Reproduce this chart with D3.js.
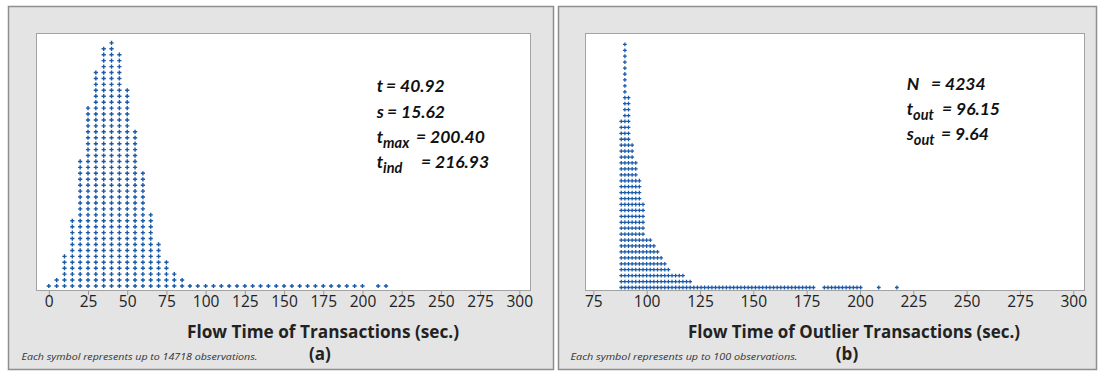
<!DOCTYPE html>
<html><head><meta charset="utf-8">
<script src="https://cdn.jsdelivr.net/npm/d3@7"></script>
<style>body{margin:0;background:#fff}svg{display:block}</style>
</head><body><svg id="c" width="1105" height="372"></svg>
<script>
// ---- data ----
const ticksA = [0,25,50,75,100,125,150,175,200,225,250,275,300];
const ticksB = [75,100,125,150,175,200,225,250,275,300];
const binsA = [0,5,10,15,20,25,30,35,40,45,50,55,60,65,70,75,80,85,
  90,95,100,105,110,115,120,125,130,135,140,145,150,155,160,165,170,175,180,185,190,195,200,
  210,215];
const countsA = [1,2,6,12,22,31,37,41,42,40,34,27,20,13,8,5,3,2,
  1,1,1,1,1,1,1,1,1,1,1,1,1,1,1,1,1,1,1,1,1,1,1,
  1,1];
const binsB = [88.1,89.8,91.5,93.2,94.9,96.6,98.3,100.0,101.7,103.4,
  105.1,106.8,108.5,110.2,111.9,113.6,115.3,117.0,118.7,120.4,
  122.1,123.8,125.5,127.2,128.9,130.6,132.3,134.0,135.7,137.4,
  139.1,140.8,142.5,144.2,145.9,147.6,149.3,151.0,152.7,154.4,
  156.1,157.8,159.5,161.2,162.9,164.6,166.3,168.0,169.7,171.4,
  173.1,174.8,176.5,178.2,
  183.3,185.0,186.7,188.4,190.1,191.8,193.5,195.2,196.9,198.6,200.3,
  208.8,217.3];
const countsB = [29,42,33,25,22,19,15,9,9,8,7,6,5,4,3,3,3,3,2,2,
  1,1,1,1,1,1,1,1,1,1,1,1,1,1,1,1,1,1,1,1,1,1,1,1,1,1,1,1,1,1,1,1,1,1,
  1,1,1,1,1,1,1,1,1,1,1,
  1,1];
const titleA = "Flow Time of Transactions (sec.)";
const titleB = "Flow Time of Outlier Transactions (sec.)";
const noteA = "Each symbol represents up to 14718 observations.";
const noteB = "Each symbol represents up to 100 observations.";

// ---- drawing ----
const svg = d3.select("#c");
const blue = "#1a5aa8";
function frame(x, w){
  svg.append("rect").attr("x",x+0.5).attr("y",6.5).attr("width",w).attr("height",363)
    .attr("fill","#e4e4e4").attr("stroke","#8e8e8e").attr("stroke-width",1.5);
}
frame(8,545); frame(558,538);

function panel(o){
  const g = svg.append("g");
  g.append("rect").attr("x",o.left+0.5).attr("y",33.5).attr("width",o.right-o.left).attr("height",257)
    .attr("fill","#fff").attr("stroke","#a3a3a3");
  const x = d3.scaleLinear().domain(o.dom).range(o.rng);
  const y = d3.scaleLinear().domain([0,41]).range([o.base, o.base-41*o.step]);
  const ax = g.append("g").attr("transform","translate(0,291)")
    .call(d3.axisBottom(x).tickValues(o.ticks).tickSize(4).tickPadding(1).tickFormat(d3.format("d")));
  ax.select(".domain").remove();
  ax.selectAll(".tick line").attr("stroke","#9a9a9a");
  ax.selectAll(".tick text").attr("font-family","'Open Sans'").attr("font-size",15.5).attr("fill","#222");
  const pts = [];
  o.bins.forEach((b,i)=>{ for(let r=0;r<o.counts[i];r++) pts.push([b,r]); });
  const sym = d3.symbol(d3.symbolCross, o.size)();
  g.append("g").selectAll("path").data(pts).join("path")
    .attr("d",sym).attr("fill",blue)
    .attr("transform",d=>`translate(${x(d[0])},${y(d[1])})`);
  g.append("text").attr("x",o.tx).attr("y",338).attr("text-anchor","middle")
    .attr("font-family","'Open Sans'").attr("font-weight","bold").attr("font-size",17).attr("fill","#222")
    .attr("textLength",o.tw).attr("lengthAdjust","spacingAndGlyphs").text(o.title);
  g.append("text").attr("x",o.lx).attr("y",360).attr("text-anchor","middle")
    .attr("font-family","'Open Sans'").attr("font-weight","bold").attr("font-size",17).attr("fill","#222")
    .text(o.label);
  g.append("text").attr("x",o.nx).attr("y",360)
    .attr("font-family","'Open Sans'").attr("font-style","italic").attr("font-size",9).attr("fill","#333")
    .attr("textLength",o.nw).attr("lengthAdjust","spacingAndGlyphs").text(o.note);
}
panel({left:36,right:530,dom:[0,300],rng:[48.8,519.3],ticks:ticksA,bins:binsA,counts:countsA,
  base:286,step:5.93,size:10,title:titleA,tx:323,tw:272,label:"(a)",lx:320,note:noteA,nx:21.5,nw:236});
panel({left:585,right:1084,dom:[75,300],rng:[593.3,1073.3],ticks:ticksB,bins:binsB,counts:countsB,
  base:287.5,step:5.93,size:8,title:titleB,tx:854,tw:332,label:"(b)",lx:847,note:noteB,nx:570.5,nw:227});

// annotations
function ann(lines){
  lines.forEach(l=>{
    const t = svg.append("text").attr("y",l.y).attr("font-family","Lato").attr("font-weight","bold")
      .attr("font-style","italic").attr("font-size",17.5).attr("fill","#111");
    t.append("tspan").attr("x",l.x).text(l.main);
    if(l.sub) t.append("tspan").attr("dy",5).attr("font-size",14.5).text(l.sub);
    t.append("tspan").attr("x",l.ex).attr("y",l.y).text(l.rest);
  });
}
ann([
  {x:376.7,y:92,main:"t",rest:"= 40.92",ex:386},
  {x:376.7,y:117.5,main:"s",rest:"= 15.62",ex:387},
  {x:376.7,y:142.5,main:"t",sub:"max",rest:"= 200.40",ex:416},
  {x:376.7,y:168,main:"t",sub:"ind",rest:"= 216.93",ex:421},
  {x:906.7,y:90,main:"N",rest:"= 4234",ex:931},
  {x:906.7,y:115,main:"t",sub:"out",rest:"= 96.15",ex:942},
  {x:906.7,y:140,main:"s",sub:"out",rest:"= 9.64",ex:941}
]);
</script></body></html>
